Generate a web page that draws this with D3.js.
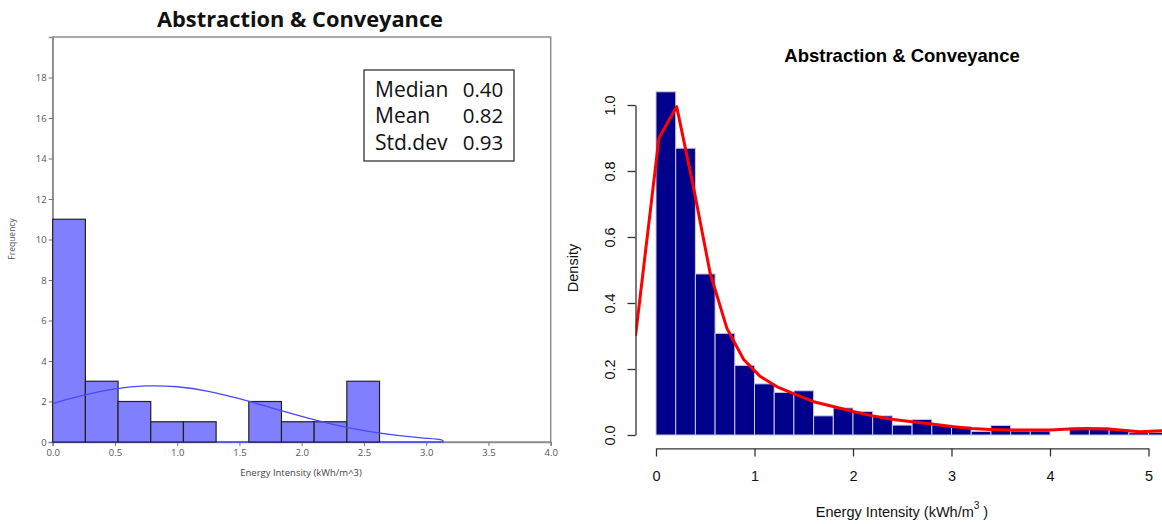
<!DOCTYPE html>
<html>
<head>
<meta charset="utf-8">
<script src="https://cdn.jsdelivr.net/npm/d3@7"></script>
<style>
  html, body { margin: 0; padding: 0; background: #fff; }
  svg { display: block; }
  .left text { font-family: "Open Sans", "Noto Sans", sans-serif; }
  .right text { font-family: "Liberation Sans", Arial, sans-serif; }
</style>
</head>
<body>
<svg id="chart" width="1162" height="524"></svg>
<script>
  // left panel: frequency histogram with fitted normal curve
  const freqTitle = "Abstraction & Conveyance";
  const freqBinWidth = 0.2625;
  const freqCounts = [11, 3, 2, 1, 1, 0, 2, 1, 1, 3];
  const freqCurve = [
    [0, 1.9], [0.25, 2.33], [0.5, 2.65], [0.75, 2.8], [1.0, 2.76], [1.25, 2.53],
    [1.5, 2.15], [1.75, 1.7], [2.0, 1.26], [2.25, 0.86], [2.5, 0.55], [2.75, 0.33],
    [3.0, 0.18], [3.137, 0.125]
  ];
  const freqTicksX = [0, 0.5, 1, 1.5, 2, 2.5, 3, 3.5, 4];
  const freqTicksY = [0, 2, 4, 6, 8, 10, 12, 14, 16, 18];
  const statLabels = ["Median", "Mean", "Std.dev"];
  const statValues = ["0.40", "0.82", "0.93"];

  // right panel: density histogram with kernel density line
  const densTitle = "Abstraction & Conveyance";
  const densBinWidth = 0.2;
  const densValues = [
    1.04, 0.869, 0.488, 0.308, 0.211, 0.155, 0.129, 0.134, 0.058, 0.082,
    0.071, 0.058, 0.030, 0.047, 0.030, 0.025, 0.011, 0.029, 0.012, 0.012,
    0, 0.023, 0.022, 0.017, 0.007, 0.008
  ];
  const densCurve = [
    [-0.208, 0.30], [0.03, 0.90], [0.21, 0.995], [0.38, 0.752], [0.55, 0.49],
    [0.72, 0.323], [0.89, 0.229], [1.06, 0.177], [1.23, 0.146], [1.39, 0.126],
    [1.6, 0.101], [1.87, 0.081], [2.0, 0.071], [2.2, 0.058], [2.39, 0.048],
    [2.6, 0.040], [2.8, 0.033], [3.0, 0.026], [3.2, 0.020], [3.4, 0.017],
    [3.61, 0.015], [4.0, 0.015], [4.2, 0.018], [4.37, 0.020], [4.6, 0.018],
    [4.91, 0.010], [5.14, 0.013], [5.4, 0.015]
  ];
  const densTicksX = [0, 1, 2, 3, 4, 5];
  const densTicksY = [0, 0.2, 0.4, 0.6, 0.8, 1.0];

  const svg = d3.select("#chart");

  function drawLeft() {
    const g = svg.append("g").attr("class", "left");
    const x = d3.scaleLinear().domain([0, 4]).range([52.7, 550.7]);
    const y = d3.scaleLinear().domain([0, 20]).range([442, 37]);

    g.append("text")
      .attr("x", 300).attr("y", 26.5)
      .attr("text-anchor", "middle")
      .attr("font-size", 21.8).attr("font-weight", 700)
      .attr("fill", "#111")
      .text(freqTitle);

    g.append("rect")
      .attr("x", x(0)).attr("y", y(20))
      .attr("width", x(4) - x(0)).attr("height", y(0) - y(20))
      .attr("fill", "none").attr("stroke", "#8f8f8f").attr("stroke-width", 1.5);

    const yAxis = g.append("g")
      .attr("transform", `translate(${x(0)},0)`)
      .call(d3.axisLeft(y).tickValues(freqTicksY).tickSize(4).tickPadding(2));
    const xAxis = g.append("g")
      .attr("transform", `translate(0,${y(0)})`)
      .call(d3.axisBottom(x).tickValues(freqTicksX).tickFormat(d3.format(".1f")).tickSize(4).tickPadding(3));
    [yAxis, xAxis].forEach(a => {
      a.select(".domain").attr("stroke", "#8f8f8f").attr("stroke-width", 1.5);
      a.selectAll(".tick line").attr("stroke", "#777");
      a.selectAll(".tick text").attr("fill", "#555").attr("font-size", 9.5)
        .attr("font-family", "\"Open Sans\", sans-serif");
    });

    g.append("text")
      .attr("x", 301).attr("y", 476)
      .attr("text-anchor", "middle")
      .attr("font-size", 9.5).attr("fill", "#444")
      .text("Energy Intensity (kWh/m^3)");

    g.append("text")
      .attr("transform", "translate(15,239) rotate(-90)")
      .attr("text-anchor", "middle")
      .attr("font-size", 8.5).attr("fill", "#555")
      .text("Frequency");

    // curve base along the axis
    const curveEnd = freqCurve[freqCurve.length - 1][0];
    g.append("line")
      .attr("x1", x(0)).attr("x2", x(curveEnd))
      .attr("y1", y(0)).attr("y2", y(0))
      .attr("stroke", "#4848ff").attr("stroke-width", 1.5);

    g.selectAll("rect.bar")
      .data(freqCounts.map((c, i) => ({ x0: i * freqBinWidth, x1: (i + 1) * freqBinWidth, c })).filter(d => d.c > 0))
      .join("rect")
      .attr("class", "bar")
      .attr("x", d => x(d.x0)).attr("width", d => x(d.x1) - x(d.x0))
      .attr("y", d => y(d.c)).attr("height", d => y(0) - y(d.c))
      .attr("fill", "#8080ff").attr("stroke", "#222").attr("stroke-width", 1.2);

    const line = d3.line().x(d => x(d[0])).y(d => y(d[1])).curve(d3.curveBasis);
    g.append("path")
      .attr("d", line(freqCurve.concat([[curveEnd, 0]])))
      .attr("fill", "none").attr("stroke", "#4848ff").attr("stroke-width", 1.3);

    const box = g.append("g");
    box.append("rect")
      .attr("x", 364).attr("y", 70).attr("width", 150).attr("height", 91)
      .attr("fill", "#fff").attr("stroke", "#222").attr("stroke-width", 1.2);
    statLabels.forEach((s, i) => {
      box.append("text").attr("x", 375).attr("y", 96.7 + i * 26.7)
        .attr("font-size", 21).attr("fill", "#111").text(s);
      box.append("text").attr("x", 462.7).attr("y", 96.7 + i * 26.7)
        .attr("font-size", 20.5).attr("fill", "#111").text(statValues[i]);
    });
  }

  function drawRight() {
    const g = svg.append("g").attr("class", "right");
    const x = d3.scaleLinear().domain([0, 5]).range([656, 1148.5]);
    const y = d3.scaleLinear().domain([0, 1]).range([435, 105]);

    g.append("text")
      .attr("x", 902).attr("y", 61.5)
      .attr("text-anchor", "middle")
      .attr("font-size", 18.5).attr("font-weight", 700)
      .attr("fill", "#000")
      .text(densTitle);

    g.selectAll("rect.bar")
      .data(densValues.map((v, i) => ({ x0: i * densBinWidth, x1: (i + 1) * densBinWidth, v })).filter(d => d.v > 0))
      .join("rect")
      .attr("class", "bar")
      .attr("x", d => x(d.x0)).attr("width", d => x(d.x1) - x(d.x0))
      .attr("y", d => y(d.v)).attr("height", d => y(0) - y(d.v))
      .attr("fill", "#00008b").attr("stroke", "#c8c8e0").attr("stroke-width", 1);

    svg.append("defs").append("clipPath").attr("id", "densClip")
      .append("rect").attr("x", x(-0.208)).attr("y", 80).attr("width", 600).attr("height", 369);
    const line = d3.line().x(d => x(d[0])).y(d => y(d[1]));
    g.append("path")
      .attr("clip-path", "url(#densClip)")
      .attr("d", line(densCurve))
      .attr("fill", "none").attr("stroke", "#ff0000").attr("stroke-width", 3)
      .attr("stroke-linejoin", "round");

    const yAxis = g.append("g")
      .attr("transform", `translate(${x(-0.208)},0)`)
      .call(d3.axisLeft(y).tickValues(densTicksY).tickFormat(d3.format(".1f")).tickSize(8).tickSizeOuter(0));
    yAxis.selectAll(".tick text")
      .attr("transform", "rotate(-90)")
      .attr("x", 0).attr("y", -26).attr("dy", "0.35em")
      .attr("text-anchor", "middle");

    const xAxis = g.append("g")
      .attr("transform", `translate(0,${y(-0.0408)})`)
      .call(d3.axisBottom(x).tickValues(densTicksX).tickFormat(d3.format("d")).tickSize(8).tickSizeOuter(0).tickPadding(14));

    [yAxis, xAxis].forEach(a => {
      a.select(".domain").attr("stroke", "#333").attr("stroke-width", 1.3);
      a.selectAll(".tick line").attr("stroke", "#333").attr("stroke-width", 1.3);
      a.selectAll(".tick text").attr("fill", "#111").attr("font-size", 14.5)
        .attr("font-family", "\"Liberation Sans\", Arial, sans-serif");
    });

    const xt = g.append("text")
      .attr("x", 902).attr("y", 517)
      .attr("text-anchor", "middle")
      .attr("font-size", 14.5).attr("fill", "#111");
    xt.append("tspan").text("Energy Intensity (kWh/m");
    xt.append("tspan").attr("dy", -8).attr("font-size", 10).text("3");
    xt.append("tspan").attr("dy", 8).text(" )");

    g.append("text")
      .attr("transform", "translate(578,268) rotate(-90)")
      .attr("text-anchor", "middle")
      .attr("font-size", 14.5).attr("fill", "#111")
      .text("Density");
  }

  drawLeft();
  drawRight();
</script>
</body>
</html>
